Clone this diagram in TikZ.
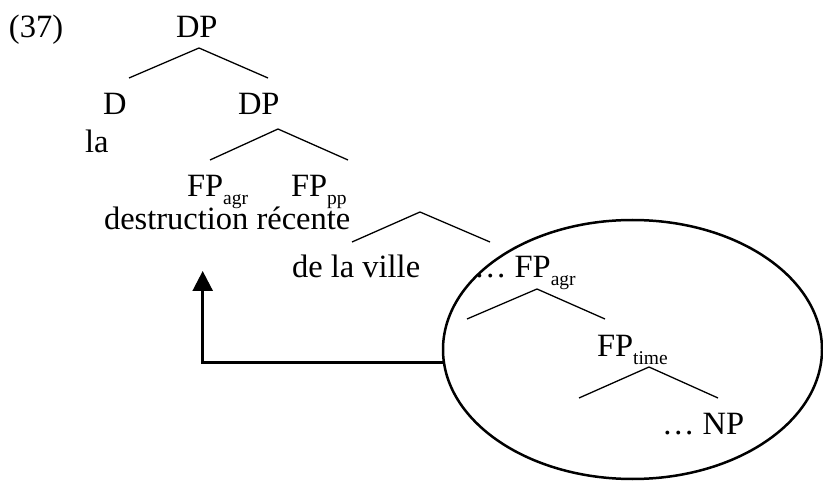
\documentclass[tikz,border=0pt]{standalone}
\usepackage{fontspec}
\setmainfont{Liberation Serif}
\usetikzlibrary{shapes.geometric,arrows.meta}
\newcommand{\subtx}[1]{\raisebox{-0.22em}{\fontsize{19.5}{19.5}\selectfont #1}}
\tikzset{
  lbl/.style={anchor=base west, inner sep=0, outer sep=0, font=\fontsize{32.5}{38}\selectfont},
  branch/.style={line width=1.3pt},
  bigarrow/.style={line width=2.6pt, -{Triangle[length=20pt,width=20pt]}},
}
\begin{document}
\begin{tikzpicture}[x=1pt,y=-1pt]
\useasboundingbox (0,0) rectangle (823,481);
% labels
\node[lbl] (ex) at (9,38) {(37)};
\node[lbl] (dp1) at (176,38) {DP};
\node[lbl] (d) at (103,115) {D};
\node[lbl] (dp2) at (238,115) {DP};
\node[lbl] (la) at (85,153) {la};
\node[lbl] (fpagr) at (187,197) {FP\subtx{agr}};
\node[lbl] (fppp) at (291,197) {FP\subtx{pp}};
\node[lbl] (destr) at (104,230) {destruction récente};
\node[lbl] (ville) at (292,278) {de la ville};
\node[lbl] (fpagr2) at (474,278) {\ldots{} FP\subtx{agr}};
\node[lbl] (fptime) at (597,357) {FP\subtx{time}};
\node[lbl] (np) at (662,435) {\ldots{} NP};
% branch points
\coordinate (a1) at (199,48);  \coordinate (l1) at (129,78);  \coordinate (r1) at (268,78);
\coordinate (a2) at (278,129); \coordinate (l2) at (210,160); \coordinate (r2) at (348,160);
\coordinate (a3) at (420,212); \coordinate (l3) at (352,242); \coordinate (r3) at (490,242);
\coordinate (a4) at (537,289); \coordinate (l4) at (467,319); \coordinate (r4) at (605,319);
\coordinate (a5) at (649,367); \coordinate (l5) at (579,398); \coordinate (r5) at (718,398);
\draw[branch] (l1) -- (a1) -- (r1);
\draw[branch] (l2) -- (a2) -- (r2);
\draw[branch] (l3) -- (a3) -- (r3);
\draw[branch] (l4) -- (a4) -- (r4);
\draw[branch] (l5) -- (a5) -- (r5);
% ellipse
\node[draw, ellipse, line width=2.5pt, minimum width=379pt, minimum height=259pt, inner sep=0, outer sep=0] (circ) at (632.5,349.5) {};
% movement arrow
\coordinate (tip) at (202.7,271);
\draw[bigarrow] (circ.184.5) -| (tip);
\end{tikzpicture}
\end{document}
